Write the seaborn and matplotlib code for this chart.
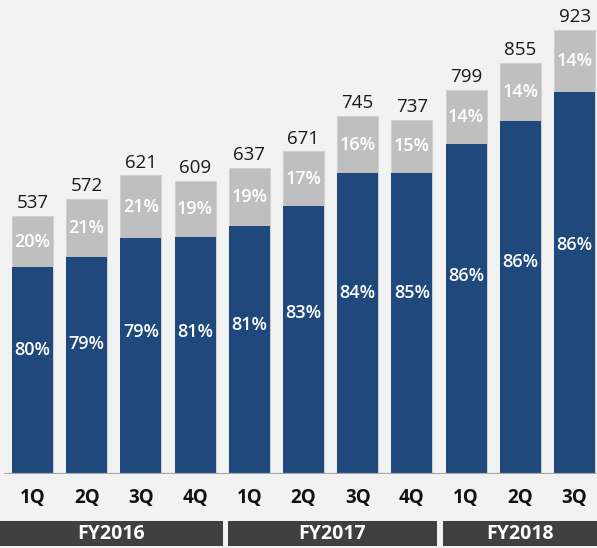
import numpy as np
import pandas as pd
import matplotlib
matplotlib.use("Agg")
import matplotlib.pyplot as plt
from matplotlib.patches import Rectangle
import seaborn as sns

# data
quarters = ["1Q", "2Q", "3Q", "4Q", "1Q", "2Q", "3Q", "4Q", "1Q", "2Q", "3Q"]
years = ["FY2016"] * 4 + ["FY2017"] * 4 + ["FY2018"] * 3
totals = [537, 572, 621, 609, 637, 671, 745, 737, 799, 855, 923]
blue_pct = [80, 79, 79, 81, 81, 83, 84, 85, 86, 86, 86]
gray_pct = [20, 21, 21, 19, 19, 17, 16, 15, 14, 14, 14]

df = pd.DataFrame({"key": [y + " " + q for y, q in zip(years, quarters)],
                   "total": totals})
df["blue"] = df["total"] * np.array(blue_pct) / 100

BLUE = "#1f497d"
GRAY = "#bfbfbf"
BG = "#f2f2f2"

sns.set_style("white")
plt.rcParams["font.family"] = ["Open Sans", "DejaVu Sans"]

fig = plt.figure(figsize=(5.97, 5.48), dpi=100, facecolor=BG)
ax = fig.add_axes([3 / 597, 74 / 548, 594 / 597, 474 / 548])
ax.set_facecolor(BG)

sns.barplot(data=df, x="key", y="total", color=GRAY, width=0.756,
            saturation=1, ax=ax, edgecolor="#d0d0d0", linewidth=0.8)
sns.barplot(data=df, x="key", y="blue", color=BLUE, width=0.756,
            saturation=1, ax=ax, linewidth=0)

ax.set_xlim(-0.544, 10.415)
ax.set_ylim(0, 986)
for s in ax.spines.values():
    s.set_visible(False)
ax.set_yticks([])
ax.set_xticks([])
ax.set_xlabel("")
ax.set_ylabel("")
ax.axhline(0, color="#a6a6a6", lw=1.6, xmin=0.003)

for i in range(len(totals)):
    t = totals[i]
    b = df["blue"][i]
    ax.text(i, t + 8, str(t), ha="center", va="bottom", fontsize=13.5, color="#1a1a1a")
    ax.text(i, b + (t - b) / 2, f"{gray_pct[i]}%", ha="center", va="center",
            fontsize=13, color="white", fontweight="semibold")
    ax.text(i, b * 0.6, f"{blue_pct[i]}%", ha="center", va="center",
            fontsize=13, color="white", fontweight="semibold")
    ax.text(i, -50, quarters[i], ha="center", va="center", fontsize=13.5,
            fontweight="bold", color="#111111")

# fiscal year bands below the axis
bands = [("FY2016", -0.6, 3.51), ("FY2017", 3.61, 7.46), ("FY2018", 7.58, 10.5)]
for name, x0, x1 in bands:
    ax.add_patch(Rectangle((x0, -150), x1 - x0, 53, color="#404040",
                           clip_on=False, lw=0))
    ax.text((x0 + min(x1, 10.415)) / 2, -124, name, ha="center", va="center",
            fontsize=14, fontweight="bold", color="white")

fig.savefig("out.png", dpi=100, facecolor=BG)
